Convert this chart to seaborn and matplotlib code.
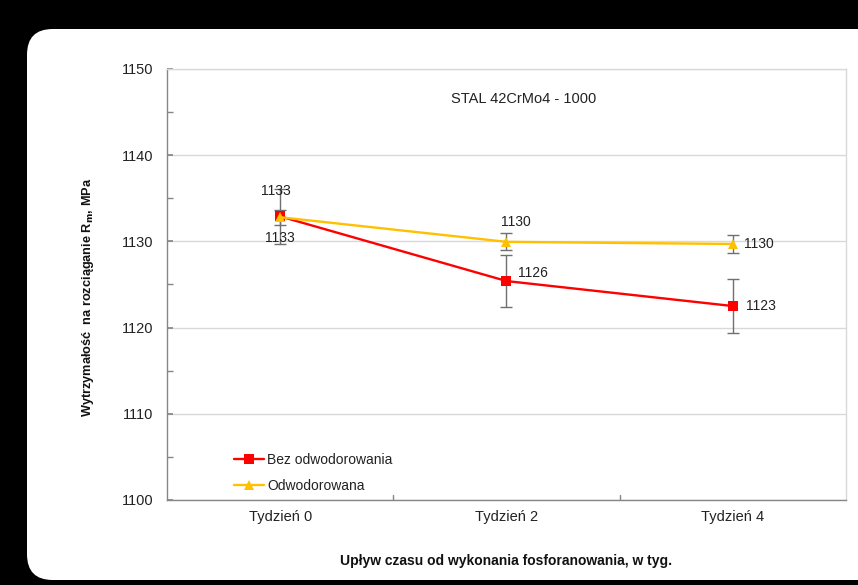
import matplotlib
matplotlib.use("Agg")
import matplotlib.pyplot as plt
from matplotlib.patches import FancyBboxPatch
import seaborn as sns
import pandas as pd

categories = ["Tydzień 0", "Tydzień 2", "Tydzień 4"]
bez_values = [1132.9, 1125.4, 1122.5]
bez_err = [3.2, 3.0, 3.1]
bez_labels = ["1133", "1126", "1123"]
odw_values = [1132.8, 1129.95, 1129.7]
odw_err = [0.9, 1.0, 1.0]
odw_labels = ["1133", "1130", "1130"]
series_names = ["Bez odwodorowania", "Odwodorowana"]

sns.set_theme(style="white")
plt.rcParams['font.family'] = ['Liberation Sans', 'DejaVu Sans']

fig = plt.figure(figsize=(8.58, 5.85), dpi=100)
fig.patch.set_facecolor("black")
W, H = 858, 585
panel = FancyBboxPatch((27 / W, 5 / H), 900 / W, (556 - 5) / H,
                       boxstyle="round,pad=0,rounding_size=0.03",
                       transform=fig.transFigure, facecolor="white",
                       edgecolor="none", zorder=0, mutation_aspect=W / H)
fig.patches.append(panel)

ax = fig.add_axes([167 / W, (585 - 500) / H, (846 - 167) / W, (500 - 69) / H])
ax.set_zorder(2)
ax.set_facecolor("white")

df = pd.DataFrame({
    "Tydzień": categories * 2,
    "Rm": bez_values + odw_values,
    "Seria": [series_names[0]] * 3 + [series_names[1]] * 3,
})
colors = {series_names[0]: "#ff0000", series_names[1]: "#ffc000"}
sns.lineplot(data=df, x="Tydzień", y="Rm", hue="Seria", style="Seria",
             markers={series_names[0]: "s", series_names[1]: "^"},
             dashes=False, palette=colors, markersize=7, linewidth=1.7,
             markeredgewidth=0, ax=ax, zorder=3, sort=False)

xs = list(range(len(categories)))
ax.errorbar(xs, bez_values, yerr=bez_err, fmt="none", ecolor="#707070",
            elinewidth=1, capsize=4, capthick=1, zorder=2)
ax.errorbar(xs, odw_values, yerr=odw_err, fmt="none", ecolor="#707070",
            elinewidth=1, capsize=4, capthick=1, zorder=2)

# data labels
fs = 10
ax.annotate(bez_labels[0], (0, bez_values[0]), xytext=(-3, 18), textcoords="offset points",
            ha="center", va="center", fontsize=fs, color="#222222")
ax.annotate(odw_labels[0], (0, odw_values[0]), xytext=(0, -15), textcoords="offset points",
            ha="center", va="center", fontsize=fs, color="#222222")
ax.annotate(bez_labels[1], (1, bez_values[1]), xytext=(19, 6), textcoords="offset points",
            ha="center", va="center", fontsize=fs, color="#222222")
ax.annotate(bez_labels[2], (2, bez_values[2]), xytext=(20, 0), textcoords="offset points",
            ha="center", va="center", fontsize=fs, color="#222222")
ax.annotate(odw_labels[1], (1, odw_values[1]), xytext=(7, 14), textcoords="offset points",
            ha="center", va="center", fontsize=fs, color="#222222")
ax.annotate(odw_labels[2], (2, odw_values[2]), xytext=(19, 0), textcoords="offset points",
            ha="center", va="center", fontsize=fs, color="#222222")

ax.text(0.525, 0.93, "STAL 42CrMo4 - 1000", transform=ax.transAxes,
        ha="center", va="center", fontsize=10.5, color="#222222")

ax.set_xlim(-0.5, 2.5)
ax.set_ylim(1100, 1150)
ax.set_yticks([1100, 1110, 1120, 1130, 1140, 1150])
ax.set_yticks([1105, 1115, 1125, 1135, 1145], minor=True)
ax.yaxis.grid(True, which="major", color="#d9d9d9", linewidth=1)
ax.set_axisbelow(True)
ax.tick_params(axis="y", which="both", direction="in", left=True, length=4,
               color="#868686", labelsize=10.5, pad=10, labelcolor="#222222")
ax.tick_params(axis="x", which="major", direction="in", bottom=False,
               labelsize=10.5, pad=7, labelcolor="#222222")
for x in [0.5, 1.5]:
    ax.plot([x, x], [1100, 1100.6], color="#868686", linewidth=1, zorder=1)
for side in ["top", "right"]:
    ax.spines[side].set_color("#d9d9d9")
for side in ["left", "bottom"]:
    ax.spines[side].set_color("#868686")
for s in ax.spines.values():
    s.set_linewidth(1)

ax.set_xlabel("Upływ czasu od wykonania fosforanowania, w tyg.", fontsize=10,
              fontweight="bold", labelpad=22, color="#111111")
ax.set_ylabel("Wytrzymałość  na rozciąganie R$_\\mathbf{m}$, MPa", fontsize=9.2,
              fontweight="bold", color="#111111")
ax.yaxis.set_label_coords(-0.104, 0.47)

leg = ax.legend(loc="lower left", bbox_to_anchor=(0.08, -0.012), frameon=False,
                fontsize=10, handlelength=2.2, handletextpad=0.2, labelspacing=0.85,
                title=None)
for t in leg.get_texts():
    t.set_color("#222222")

fig.savefig("out.png", dpi=100, facecolor=fig.get_facecolor())
